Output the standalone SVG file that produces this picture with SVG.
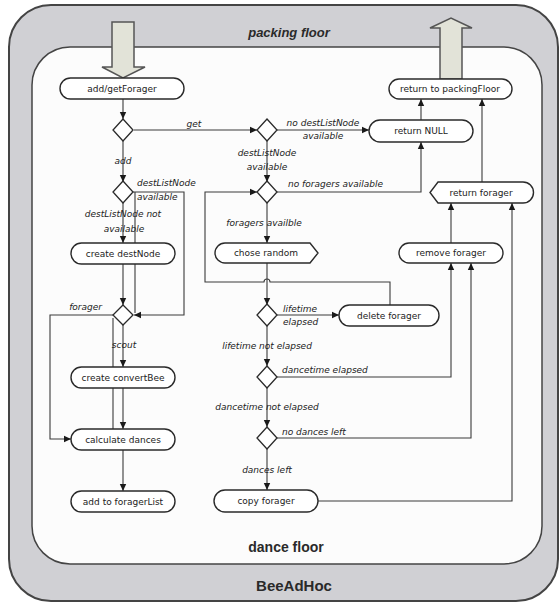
<svg xmlns="http://www.w3.org/2000/svg" width="560" height="604" viewBox="0 0 560 604">
  <defs>
    <marker id="tip" markerUnits="userSpaceOnUse" markerWidth="8" markerHeight="8" refX="7" refY="4" orient="auto">
      <path d="M0,0.8 L7,4 L0,7.2 Z" fill="#1a1a1a"/>
    </marker>
    <style>
      .frame { fill: #d0d0d4; stroke: #444; stroke-width: 2; }
      .floor { fill: #fcfcfc; stroke: #444; stroke-width: 1.5; }
      .big { fill: #e2e3d8; stroke: #555; stroke-width: 1.5; }
      .node { fill: #fff; stroke: #2a2a2a; stroke-width: 1.4; }
      .dec { fill: #fff; stroke: #2a2a2a; stroke-width: 1.3; }
      .nt { font-family: "DejaVu Sans", Verdana, sans-serif; font-size: 9px; fill: #222; text-anchor: middle; }
      .lb { font-family: "DejaVu Sans", Verdana, sans-serif; font-size: 9px; font-style: italic; fill: #222; }
      .mid { text-anchor: middle; }
      .title { font-family: "Liberation Sans", Arial, sans-serif; font-weight: bold; fill: #2a2a2a; text-anchor: middle; }
      #connectors path { fill: none; stroke: #3a3a3a; stroke-width: 1.1; }
      #connectors .a { marker-end: url(#tip); }
    </style>
  </defs>

  <!-- outer frame and floors -->
  <rect class="frame" x="9" y="5" width="549" height="596" rx="42"/>
  <rect class="floor" x="32" y="47" width="510" height="517" rx="38"/>
  <text class="title" x="289" y="37" font-size="13" font-style="italic">packing floor</text>
  <text class="title" x="286" y="552" font-size="14">dance floor</text>
  <text class="title" x="294" y="591" font-size="15">BeeAdHoc</text>

  <!-- entry / exit arrows -->
  <path class="big" d="M112,22 H134 V67 H145 L123,78 L102,67 H112 Z"/>
  <path class="big" d="M440,79 V28 H430 L451,18 L472,28 H462 V79 Z"/>

  <!-- connectors -->
  <g id="connectors">
    <path class="a" d="M123,99 V119"/>
    <path class="a" d="M134,130 H257"/>
    <path class="a" d="M123,141 V182"/>
    <path class="a" d="M133,192 H184 V315 H134"/>
    <path d="M135,192 V313"/>
    <path class="a" d="M123,202 V243"/>
    <path class="a" d="M123,264 V305"/>
    <path d="M113,318 V429"/>
    <path class="a" d="M113,315 H50 V439 H71"/>
    <path class="a" d="M123,325 V367"/>
    <path class="a" d="M123,388 V429"/>
    <path class="a" d="M123,450 V491"/>
    <path class="a" d="M277,130 H369"/>
    <path class="a" d="M267,141 V182"/>
    <path class="a" d="M277,192 H421 V142"/>
    <path class="a" d="M421,120 V99"/>
    <path class="a" d="M267,203 V243"/>
    <path class="a" d="M267,263 V305"/>
    <path class="a" d="M390,305 V282 H270 A3 3 0 0 0 264 282 H205 V192 H257"/>
    <path class="a" d="M277,315 H339"/>
    <path class="a" d="M267,326 V366"/>
    <path class="a" d="M277,377 H451 V263"/>
    <path class="a" d="M267,388 V427"/>
    <path class="a" d="M277,438 H471 V263"/>
    <path class="a" d="M267,449 V490"/>
    <path class="a" d="M318,501 H512 V203"/>
    <path class="a" d="M451,243 V203"/>
    <path class="a" d="M482,182 V99"/>
  </g>

  <!-- guard labels -->
  <g id="guards">
    <text class="lb mid" x="194" y="127">get</text>
    <text class="lb mid" x="123" y="164">add</text>
    <text class="lb" x="137" y="186">destListNode</text>
    <text class="lb" x="137" y="200">available</text>
    <text class="lb mid" x="123" y="217">destListNode not</text>
    <text class="lb mid" x="124" y="232">available</text>
    <text class="lb" x="102" y="310" text-anchor="end">forager</text>
    <text class="lb mid" x="124" y="348">scout</text>
    <text class="lb mid" x="323" y="126">no destListNode</text>
    <text class="lb mid" x="323" y="139">available</text>
    <text class="lb mid" x="267" y="156">destListNode</text>
    <text class="lb mid" x="267" y="170">available</text>
    <text class="lb" x="288" y="187">no foragers available</text>
    <text class="lb mid" x="264" y="226">foragers availble</text>
    <text class="lb" x="283" y="312">lifetime</text>
    <text class="lb" x="283" y="325">elapsed</text>
    <text class="lb mid" x="267" y="349">lifetime not elapsed</text>
    <text class="lb" x="282" y="373">dancetime elapsed</text>
    <text class="lb mid" x="267" y="410">dancetime not elapsed</text>
    <text class="lb" x="282" y="435">no dances left</text>
    <text class="lb mid" x="267" y="473">dances left</text>
  </g>

  <!-- decisions -->
  <g id="d-addget"><path class="dec" d="M123,119 L133,130 L123,141 L113,130 Z"/></g>
  <g id="d-destnode"><path class="dec" d="M123,181 L133,192 L123,203 L113,192 Z"/></g>
  <g id="d-role"><path class="dec" d="M123,305 L133,315 L123,325 L113,315 Z"/></g>
  <g id="d-getnode"><path class="dec" d="M267,119 L277,130 L267,141 L257,130 Z"/></g>
  <g id="d-foragers"><path class="dec" d="M267,181 L277,192 L267,203 L257,192 Z"/></g>
  <g id="d-lifetime"><path class="dec" d="M267,304 L277,315 L267,326 L257,315 Z"/></g>
  <g id="d-dancetime"><path class="dec" d="M267,366 L277,377 L267,388 L257,377 Z"/></g>
  <g id="d-dances"><path class="dec" d="M267,427 L277,438 L267,449 L257,438 Z"/></g>

  <!-- activities -->
  <g id="addGetForager"><rect class="node" x="60" y="78" width="124" height="21" rx="10.5"/><text class="nt" x="122" y="92">add/getForager</text></g>
  <g id="returnToPackingFloor"><rect class="node" x="389" y="79" width="123" height="20" rx="10"/><text class="nt" x="450" y="92">return to packingFloor</text></g>
  <g id="returnNull"><rect class="node" x="369" y="120" width="104" height="22" rx="11"/><text class="nt" x="421" y="134">return NULL</text></g>
  <g id="returnForager"><path class="node" d="M438,182 H523 A10.5 10.5 0 0 1 523,203 H438 L430,192.5 Z"/><text class="nt" x="481" y="195.5">return forager</text></g>
  <g id="choseRandom"><path class="node" d="M225,243 H310 L318,253 L310,263 H225 A10 10 0 0 1 225,243 Z"/><text class="nt" x="266" y="256">chose random</text></g>
  <g id="removeForager"><rect class="node" x="399" y="243" width="104" height="20" rx="10"/><text class="nt" x="451" y="256">remove forager</text></g>
  <g id="deleteForager"><rect class="node" x="339" y="305" width="100" height="21" rx="10.5"/><text class="nt" x="389" y="318.5">delete forager</text></g>
  <g id="copyForager"><rect class="node" x="214" y="490" width="104" height="22" rx="11"/><text class="nt" x="266" y="504">copy forager</text></g>
  <g id="createDestNode"><rect class="node" x="71" y="243" width="104" height="21" rx="10.5"/><text class="nt" x="123" y="256.5">create destNode</text></g>
  <g id="createConvertBee"><rect class="node" x="71" y="367" width="104" height="21" rx="10.5"/><text class="nt" x="123" y="380.5">create convertBee</text></g>
  <g id="calculateDances"><rect class="node" x="71" y="429" width="104" height="21" rx="10.5"/><text class="nt" x="123" y="442.5">calculate dances</text></g>
  <g id="addToForagerList"><rect class="node" x="71" y="491" width="104" height="21" rx="10.5"/><text class="nt" x="123" y="504.5">add to foragerList</text></g>
</svg>
